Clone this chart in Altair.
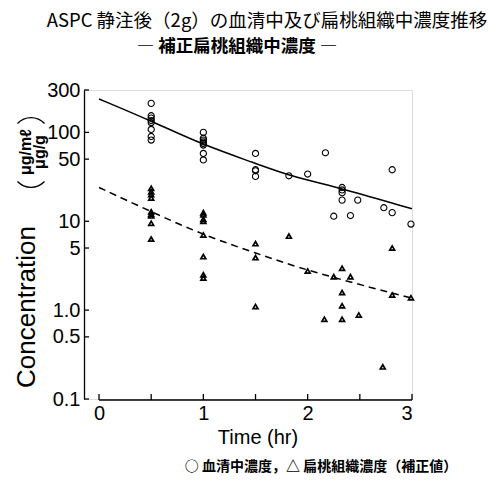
import altair as alt
import pandas as pd

# ---- data ----
serum_x = [0.5]*8 + [1.0]*8 + [1.5]*4 + [1.82, 2.0, 2.17, 2.33, 2.33, 2.33, 2.33, 2.25, 2.41, 2.48, 2.73, 2.81, 2.81, 2.99]
serum_y = [212, 154, 145, 136, 129, 108, 90, 82,
           100, 86, 82, 78, 75, 72, 58, 49,
           58, 38, 37, 32,
           32.5, 34, 59, 24, 22.5, 21, 17.3, 11.4, 11.6, 17.3, 14.2, 12.5, 38, 9.3]

tissue_x = [0.5]*9 + [1.0]*8 + [1.5]*3 + [1.82, 2.0, 2.16, 2.25, 2.33, 2.33, 2.33, 2.33, 2.41, 2.49, 2.72, 2.81, 2.81, 2.99]
tissue_y = [23.5, 21.5, 20, 18.3, 12.8, 12, 11.5, 9.5, 6.3,
            12.5, 11.8, 10.5, 10, 7.0, 4.0, 2.5, 2.3,
            5.6, 3.9, 1.1,
            6.8, 2.76, 0.79, 2.38, 2.96, 1.58, 1.12, 0.79, 2.38, 0.88, 0.23, 5.0, 1.48, 1.38]

serum_curve_x = [0, 0.5, 1.0, 1.5, 1.82, 2.33, 3.0]
serum_curve_y = [238, 135, 72, 45, 32.5, 23.4, 13.8]

tissue_curve_x = [0, 0.5, 1.0, 1.5, 2.0, 3.0]
tissue_curve_y = [24, 12.8, 7.0, 4.4, 2.76, 1.36]

y_ticks = [300, 100, 50, 10, 5, 1.0, 0.5, 0.1]
x_ticks = [0, 0.5, 1, 1.5, 2, 2.5, 3]
x_labels = [0, 1, 2, 3]

title_text = "ASPC 静注後（2g）の血清中及び扁桃組織中濃度推移"
subtitle_text = "― 補正扁桃組織中濃度 ―"
legend_text = "○ 血清中濃度，△ 扁桃組織濃度（補正値）"

# ---- layout ----
W, H = 328, 309
NUM_FONT = "Liberation Sans Narrow, Liberation Sans, Arial"
JP_FONT = "Noto Sans CJK JP"

xscale = alt.Scale(domain=[-0.144, 3.0], nice=False, zero=False)
yscale = alt.Scale(type="log", domain=[0.1, 300], nice=False)

xaxis = alt.Axis(values=x_labels, ticks=False, domain=False, grid=False, title=None,
                 labelFont=NUM_FONT, labelFontSize=20, labelPadding=4, labelColor="black", format="d")
yaxis = alt.Axis(values=y_ticks, ticks=False, domain=True, domainColor="black", domainWidth=1.3,
                 grid=False, title=None, labelFont=NUM_FONT, labelFontSize=20, labelPadding=4,
                 labelColor="black",
                 labelExpr="datum.value >= 5 ? format(datum.value, 'd') : format(datum.value, '.1f')")

X = alt.X("x:Q", scale=xscale, axis=xaxis)
Y = alt.Y("y:Q", scale=yscale, axis=yaxis)

serum_df = pd.DataFrame({"x": serum_x, "y": serum_y})
tissue_df = pd.DataFrame({"x": tissue_x, "y": tissue_y})
scurve_df = pd.DataFrame({"x": serum_curve_x, "y": serum_curve_y})
tcurve_df = pd.DataFrame({"x": tissue_curve_x, "y": tissue_curve_y})

serum_pts = alt.Chart(serum_df).mark_point(shape="circle", filled=False, color="black",
                                           size=38, strokeWidth=1.1, opacity=1).encode(x=X, y=Y)
tissue_pts = alt.Chart(tissue_df).mark_point(shape="triangle-up", filled=False, color="black",
                                             size=24, strokeWidth=1.7, opacity=1).encode(x=X, y=Y)
serum_line = alt.Chart(scurve_df).mark_line(color="black", strokeWidth=1.5,
                                            interpolate="basis").encode(x=X, y=Y)
tissue_line = alt.Chart(tcurve_df).mark_line(color="black", strokeWidth=1.5, strokeDash=[7, 5],
                                             interpolate="basis").encode(x=X, y=Y)

ytick_df = pd.DataFrame({"y": y_ticks})
ytick_rules = alt.Chart(ytick_df).mark_rule(color="black", strokeWidth=1.3).encode(
    y=Y, x=alt.value(0), x2=alt.value(5))
xtick_df = pd.DataFrame({"x": x_ticks})
xtick_rules = alt.Chart(xtick_df).mark_rule(color="black", strokeWidth=1.3).encode(
    x=X, y=alt.value(H + 1), y2=alt.value(H - 5))
xline_df = pd.DataFrame({"x": [x_ticks[0]], "x2": [x_ticks[-1]]})
xline = alt.Chart(xline_df).mark_rule(color="black", strokeWidth=1.3).encode(
    x=X, x2="x2:Q", y=alt.value(H + 1))

one = pd.DataFrame({"k": [0]})
def txt(text, x, y, size, font, weight="normal", angle=0):
    return alt.Chart(one).mark_text(text=text, font=font, fontSize=size, fontWeight=weight,
                                    align="center", baseline="middle", angle=angle,
                                    color="black").encode(x=alt.value(x), y=alt.value(y))

def bracket(cx, cy, t0, t1):
    return alt.Chart(one).mark_arc(radius=19.3, radius2=18.0, theta=t0, theta2=t1,
                                   color="black").encode(x=alt.value(cx), y=alt.value(cy))

title = txt(title_text, 183, -69, 18.5, JP_FONT, "normal")
subtitle = txt(subtitle_text, 153, -43, 17.5, JP_FONT, "bold")
ytitle = txt("Concentration", -57, 217, 26, "Liberation Sans", angle=270)
unit1 = txt("μg/mℓ", -58, 62, 16, "Liberation Sans", "bold", angle=270)
unit2 = txt("μg/g", -44, 62, 16, "Liberation Sans", "bold", angle=270)
br_top = bracket(-53, 46.3, 5.473, 7.093)
br_bot = bracket(-53, 78.7, 2.332, 3.952)
xtitle = txt("Time (hr)", 174, 348, 20, "Liberation Sans")
legend = txt(legend_text, 237, 377, 14, JP_FONT, "bold")

chart = alt.layer(
    serum_line, tissue_line, serum_pts, tissue_pts, ytick_rules, xtick_rules, xline,
    title, subtitle, ytitle, unit1, unit2, br_top, br_bot, xtitle, legend
).properties(
    width=W, height=H,
    padding={"left": 84, "top": 90, "right": 76, "bottom": 82},
    autosize=alt.AutoSizeParams(type="none"),
).configure_view(stroke=None).configure(background="white")

chart.save("out.html", embed_options={"renderer": "svg", "actions": False})
